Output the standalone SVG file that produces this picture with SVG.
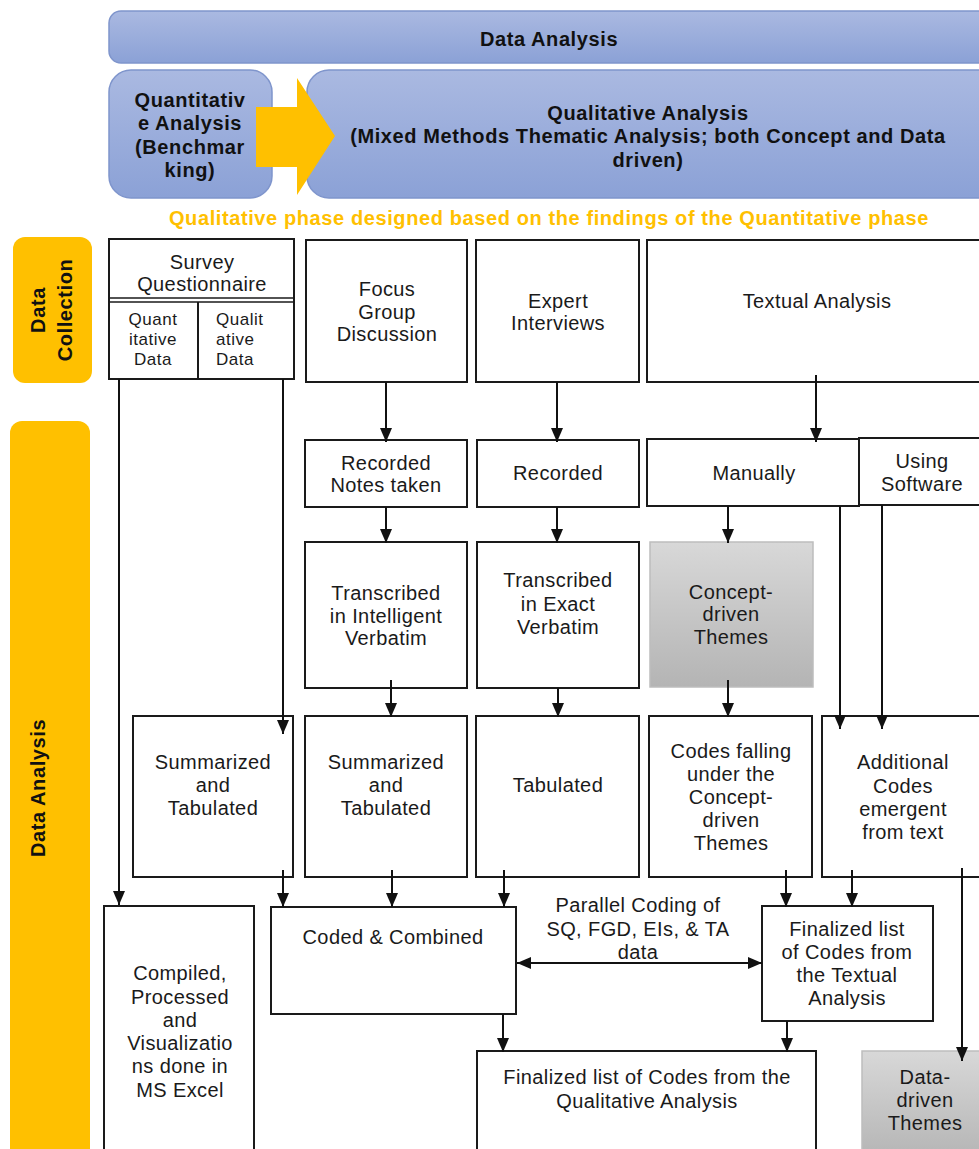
<svg xmlns="http://www.w3.org/2000/svg" width="979" height="1149" viewBox="0 0 979 1149">
<defs>
<linearGradient id="blue" x1="0" y1="0" x2="0" y2="1"><stop offset="0" stop-color="#aab9e1"/><stop offset="1" stop-color="#8ba1d6"/></linearGradient>
<linearGradient id="gray" x1="0" y1="0" x2="0" y2="1"><stop offset="0" stop-color="#d8d8d8"/><stop offset="1" stop-color="#b4b4b4"/></linearGradient>
<marker id="ah" markerUnits="userSpaceOnUse" markerWidth="14" markerHeight="14" viewBox="0 0 14 14" refX="14" refY="7" orient="auto-start-reverse"><path d="M0,1 L14,7 L0,13 z" fill="#111"/></marker>
<style>
.bx{fill:#fff;stroke:#1a1a1a;stroke-width:2}
.gb{fill:url(#gray);stroke:#bdbdbd;stroke-width:1.5}
.bl{fill:url(#blue);stroke:#7f95cc;stroke-width:1.5}
.yb{fill:#ffc000}
.t{font-family:"Liberation Sans",Arial,sans-serif;font-size:20px;letter-spacing:0.4px;fill:#1a1a1a;text-anchor:middle}
.s{font-size:17px;letter-spacing:0.5px}
.h{font-family:"Liberation Sans",Arial,sans-serif;font-size:20px;font-weight:bold;letter-spacing:0.6px;fill:#111;text-anchor:middle}
.o{fill:#ffc000}
.c{fill:none;stroke:#111;stroke-width:2;marker-end:url(#ah)}
</style>
</defs>

<g id="header-data-analysis"><rect class="bl" x="109" y="11" width="900" height="52" rx="12"/><text class="h" x="549" y="46">Data Analysis</text></g>
<g id="quantitative-analysis"><rect class="bl" x="109" y="70" width="163" height="128" rx="22"/>
<text class="h" x="190"><tspan x="190" y="107">Quantitativ</tspan><tspan x="190" y="130">e Analysis</tspan><tspan x="190" y="154">(Benchmar</tspan><tspan x="190" y="177">king)</tspan></text></g>
<g id="qualitative-analysis"><rect class="bl" x="307" y="70" width="700" height="128" rx="22"/>
<text class="h"><tspan x="648" y="120">Qualitative Analysis</tspan><tspan x="648" y="143">(Mixed Methods Thematic Analysis; both Concept and Data</tspan><tspan x="648" y="167">driven)</tspan></text></g>
<g id="phase-arrow"><polygon class="yb" points="256,107 297,107 297,78 335,136 297,195 297,167 256,167"/></g>
<g id="phase-note"><text class="h o" x="549" y="225">Qualitative phase designed based on the findings of the Quantitative phase</text></g>

<g id="lane-data-collection"><rect class="yb" x="13" y="237" width="79" height="146" rx="12"/>
<text class="h" transform="translate(45,310) rotate(-90)">Data</text><text class="h" transform="translate(72,310) rotate(-90)">Collection</text></g>
<g id="lane-data-analysis"><rect class="yb" x="10" y="421" width="80" height="740" rx="12"/>
<text class="h" transform="translate(45,788) rotate(-90)">Data Analysis</text></g>

<g id="survey-questionnaire"><rect class="bx" x="109" y="239" width="185" height="140"/>
<line x1="109" y1="298" x2="294" y2="298" stroke="#1a1a1a" stroke-width="1.5"/><line x1="109" y1="302" x2="294" y2="302" stroke="#1a1a1a" stroke-width="1.5"/>
<line x1="198" y1="302" x2="198" y2="379" stroke="#1a1a1a" stroke-width="2"/>
<text class="t"><tspan x="202" y="269">Survey</tspan><tspan x="202" y="291">Questionnaire</tspan></text>
<text class="t s"><tspan x="153" y="325">Quant</tspan><tspan x="153" y="345">itative</tspan><tspan x="153" y="365">Data</tspan></text>
<text class="t s" style="text-anchor:start"><tspan x="216" y="325">Qualit</tspan><tspan x="216" y="345">ative</tspan><tspan x="216" y="365">Data</tspan></text></g>
<g id="focus-group"><rect class="bx" x="306" y="240" width="161" height="142"/><text class="t"><tspan x="387" y="296">Focus</tspan><tspan x="387" y="319">Group</tspan><tspan x="387" y="341">Discussion</tspan></text></g>
<g id="expert-interviews"><rect class="bx" x="476" y="240" width="163" height="142"/><text class="t"><tspan x="558" y="308">Expert</tspan><tspan x="558" y="330">Interviews</tspan></text></g>
<g id="textual-analysis"><rect class="bx" x="647" y="240" width="345" height="142"/><text class="t" x="817" y="308">Textual Analysis</text></g>

<g id="recorded-notes"><rect class="bx" x="305" y="440" width="162" height="67"/><text class="t"><tspan x="386" y="470">Recorded</tspan><tspan x="386" y="492">Notes taken</tspan></text></g>
<g id="recorded"><rect class="bx" x="477" y="440" width="162" height="67"/><text class="t" x="558" y="480">Recorded</text></g>
<g id="manually"><rect class="bx" x="647" y="439" width="212" height="67"/><text class="t" x="754" y="480">Manually</text></g>
<g id="using-software"><rect class="bx" x="859" y="438" width="130" height="67"/><text class="t"><tspan x="922" y="468">Using</tspan><tspan x="922" y="491">Software</tspan></text></g>

<g id="transcribed-intelligent"><rect class="bx" x="305" y="542" width="162" height="146"/><text class="t"><tspan x="386" y="600">Transcribed</tspan><tspan x="386" y="623">in Intelligent</tspan><tspan x="386" y="645">Verbatim</tspan></text></g>
<g id="transcribed-exact"><rect class="bx" x="477" y="542" width="162" height="146"/><text class="t"><tspan x="558" y="587">Transcribed</tspan><tspan x="558" y="611">in Exact</tspan><tspan x="558" y="634">Verbatim</tspan></text></g>
<g id="concept-driven-themes"><rect class="gb" x="650" y="542" width="163" height="145"/><text class="t"><tspan x="731" y="599">Concept-</tspan><tspan x="731" y="621">driven</tspan><tspan x="731" y="644">Themes</tspan></text></g>

<g id="summarized-survey"><rect class="bx" x="133" y="716" width="160" height="161"/><text class="t"><tspan x="213" y="769">Summarized</tspan><tspan x="213" y="792">and</tspan><tspan x="213" y="815">Tabulated</tspan></text></g>
<g id="summarized-fgd"><rect class="bx" x="305" y="716" width="162" height="161"/><text class="t"><tspan x="386" y="769">Summarized</tspan><tspan x="386" y="792">and</tspan><tspan x="386" y="815">Tabulated</tspan></text></g>
<g id="tabulated"><rect class="bx" x="476" y="716" width="163" height="161"/><text class="t" x="558" y="792">Tabulated</text></g>
<g id="codes-falling"><rect class="bx" x="649" y="716" width="163" height="161"/><text class="t"><tspan x="731" y="758">Codes falling</tspan><tspan x="731" y="781">under the</tspan><tspan x="731" y="804">Concept-</tspan><tspan x="731" y="827">driven</tspan><tspan x="731" y="850">Themes</tspan></text></g>
<g id="additional-codes"><rect class="bx" x="822" y="716" width="170" height="161"/><text class="t"><tspan x="903" y="769">Additional</tspan><tspan x="903" y="793">Codes</tspan><tspan x="903" y="816">emergent</tspan><tspan x="903" y="839">from text</tspan></text></g>

<g id="compiled-excel"><rect class="bx" x="104" y="906" width="150" height="260"/><text class="t"><tspan x="180" y="980">Compiled,</tspan><tspan x="180" y="1004">Processed</tspan><tspan x="180" y="1027">and</tspan><tspan x="180" y="1050">Visualizatio</tspan><tspan x="180" y="1073">ns done in</tspan><tspan x="180" y="1097">MS Excel</tspan></text></g>
<g id="coded-combined"><rect class="bx" x="271" y="907" width="245" height="107"/><text class="t" x="393" y="944">Coded &amp; Combined</text></g>
<g id="finalized-textual"><rect class="bx" x="762" y="906" width="171" height="115"/><text class="t"><tspan x="847" y="936">Finalized list</tspan><tspan x="847" y="959">of Codes from</tspan><tspan x="847" y="982">the Textual</tspan><tspan x="847" y="1005">Analysis</tspan></text></g>
<g id="finalized-qualitative"><rect class="bx" x="477" y="1051" width="339" height="110"/><text class="t"><tspan x="647" y="1084">Finalized list of Codes from the</tspan><tspan x="647" y="1108">Qualitative Analysis</tspan></text></g>
<g id="data-driven-themes"><rect class="gb" x="862" y="1051" width="130" height="110"/><text class="t"><tspan x="925" y="1084">Data-</tspan><tspan x="925" y="1107">driven</tspan><tspan x="925" y="1130">Themes</tspan></text></g>

<g id="connectors">
<path class="c" d="M119,379 V905"/>
<path class="c" d="M283,379 V734"/>
<path class="c" d="M386,382 V442"/>
<path class="c" d="M557,382 V442"/>
<path class="c" d="M816,375 V442"/>
<path class="c" d="M386,507 V543"/>
<path class="c" d="M557,507 V543"/>
<path class="c" d="M728,506 V543"/>
<path class="c" d="M840,506 V729"/>
<path class="c" d="M882,505 V729"/>
<path class="c" d="M391,680 V717"/>
<path class="c" d="M558,688 V717"/>
<path class="c" d="M728,680 V717"/>
<path class="c" d="M283,870 V907"/>
<path class="c" d="M392,870 V907"/>
<path class="c" d="M504,870 V907"/>
<path class="c" d="M786,870 V907"/>
<path class="c" d="M852,870 V907"/>
<path class="c" d="M962,868 V1061"/>
<path class="c" d="M503,1014 V1052"/>
<path class="c" d="M787,1021 V1052"/>
<path class="c" d="M517,963 H762" style="marker-start:url(#ah)"/>
<text class="t"><tspan x="638" y="912">Parallel Coding of</tspan><tspan x="638" y="936">SQ, FGD, EIs, &amp; TA</tspan><tspan x="638" y="959">data</tspan></text>
</g>
</svg>
